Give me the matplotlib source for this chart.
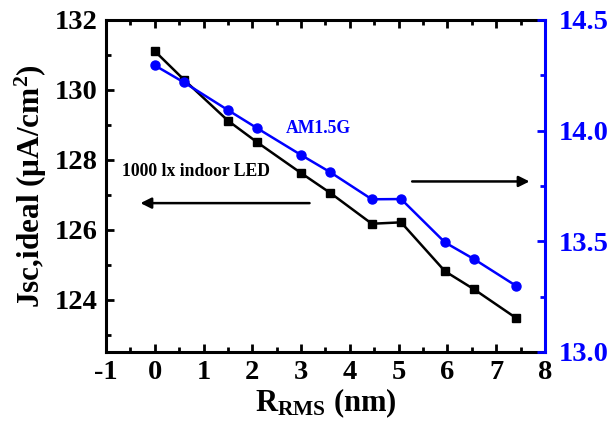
import matplotlib
matplotlib.use("Agg")
from matplotlib import pyplot as plt
from matplotlib.ticker import MultipleLocator

# data
r_rms = [0.0, 0.6, 1.5, 2.1, 3.0, 3.6, 4.45, 5.05, 5.95, 6.55, 7.4]
jsc_led = [131.11, 130.29, 129.12, 128.5, 127.62, 127.05, 126.17, 126.21, 124.81, 124.29, 123.48]
jsc_am15 = [14.295, 14.218, 14.093, 14.011, 13.89, 13.812, 13.69, 13.691, 13.495, 13.419, 13.30]

x_ticks = [-1, 0, 1, 2, 3, 4, 5, 6, 7, 8]
left_ticks = [124, 126, 128, 130, 132]
right_ticks = [13.0, 13.5, 14.0, 14.5]

BLUE = "#0000ff"

plt.rcParams["font.family"] = "Liberation Serif"
plt.rcParams["font.weight"] = "bold"
plt.rcParams["axes.labelweight"] = "bold"
plt.rcParams["mathtext.fontset"] = "custom"
plt.rcParams["mathtext.rm"] = "Liberation Serif:bold"
plt.rcParams["mathtext.bf"] = "Liberation Serif:bold"
plt.rcParams["mathtext.it"] = "Liberation Serif:bold:italic"
plt.rcParams["mathtext.default"] = "rm"

fig = plt.figure(figsize=(6.14, 4.21), dpi=100)
ax = fig.add_axes([0.1726, 0.1639, 0.7150, 0.7886])
ax2 = ax.twinx()

ax.plot(r_rms, jsc_led, color="black", lw=1.8, marker="s", ms=6)
ax2.plot(r_rms, jsc_am15, color=BLUE, lw=1.8, marker="o", ms=6.5)

ax.set_xlim(-1, 8)
ax.set_ylim(122.5, 132)
ax2.set_ylim(13.0, 14.5)

ax.set_xticks(x_ticks)
ax.set_xticklabels([str(t) for t in x_ticks])
ax.set_yticks(left_ticks)
ax.set_yticklabels([str(t) for t in left_ticks])
ax2.set_yticks(right_ticks)
ax2.set_yticklabels([f"{t:.1f}" for t in right_ticks])
ax.xaxis.set_minor_locator(MultipleLocator(0.5))
ax.yaxis.set_minor_locator(MultipleLocator(1))
ax2.yaxis.set_minor_locator(MultipleLocator(0.25))

fs = 20.5
ax.tick_params(which="both", direction="in", top=True, right=False, width=2, labelsize=fs)
ax.tick_params(which="major", length=6)
ax.tick_params(which="minor", length=3.5)
ax.tick_params(axis="y", which="major", pad=6)
ax.tick_params(axis="x", which="major", pad=6)
ax2.tick_params(which="both", direction="in", width=2, colors=BLUE, labelsize=fs)
ax2.tick_params(which="major", length=6, pad=10)
ax2.tick_params(which="minor", length=3.5)

for s in ["left", "bottom", "top"]:
    ax.spines[s].set_linewidth(2.2)
ax2.spines["right"].set_linewidth(2.2)
ax2.spines["right"].set_color(BLUE)
ax.spines["right"].set_visible(False)
for s in ["left", "bottom", "top"]:
    ax2.spines[s].set_visible(False)

ax.set_ylabel("Jsc,ideal (μA/cm$^{2}$)", fontsize=22.5, labelpad=4)
ax.set_xlabel(r"R$_{\mathrm{RMS}}$ (nm)", fontsize=22, labelpad=1)

# annotations
ax.text(-0.68, 127.67, "1000 lx indoor LED", fontsize=12.7, va="center", ha="left")
ax.text(2.68, 128.9, "AM1.5G", fontsize=12.7, color=BLUE, va="center", ha="left")
ax.annotate("", xy=(-0.35, 126.76), xytext=(3.23, 126.76),
            arrowprops=dict(arrowstyle="-|>", color="black", lw=1.8, mutation_scale=16))
ax.annotate("", xy=(7.74, 127.38), xytext=(5.22, 127.38),
            arrowprops=dict(arrowstyle="-|>", color="black", lw=1.8, mutation_scale=16))

fig.savefig("out.png", dpi=100)
